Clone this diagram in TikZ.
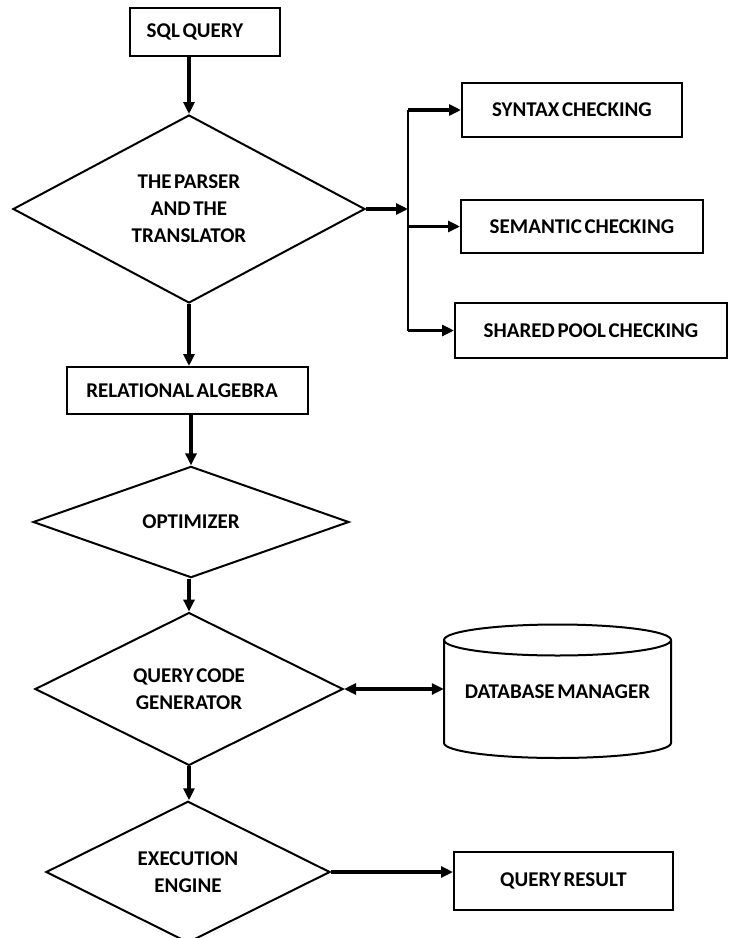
\documentclass[tikz,border=0pt]{standalone}
\usepackage{fontspec}
\setmainfont{Carlito}[WordSpace=0.55]
\usetikzlibrary{shapes.geometric,arrows.meta}
\begin{document}
\begin{tikzpicture}[x=1pt,y=-1pt,
  every node/.style={font=\fontsize{21}{27}\selectfont\bfseries, text=black},
  box/.style={draw, line width=2pt, inner sep=0pt, align=center},
  dia/.style={diamond, draw, line width=2pt, inner sep=0pt, align=center},
  flow/.style={line width=3.2pt, -{Triangle[length=12pt,width=11pt]}},
  dflow/.style={line width=3.2pt, {Triangle[length=12pt,width=11pt]}-{Triangle[length=12pt,width=11pt]}},
  busline/.style={line width=1.4pt}
]
\useasboundingbox (0,0) rectangle (729,938);

\node[box, minimum width=150, minimum height=48] (sql) at (205,32) {SQL QUERY\hspace*{20pt}};
\node[dia, minimum width=352, minimum height=188] (parser) at (189,209) {THE PARSER\\AND THE\\TRANSLATOR};
\node[box, minimum width=220, minimum height=54] (syn) at (572,110) {SYNTAX CHECKING};
\node[box, minimum width=242, minimum height=53] (sem) at (582,226.5) {SEMANTIC CHECKING};
\node[box, minimum width=272, minimum height=55] (shp) at (591,330.5) {SHARED POOL CHECKING};
\node[box, minimum width=241, minimum height=47] (ra) at (187.5,390.5) {RELATIONAL ALGEBRA\hspace*{11pt}};
\node[dia, minimum width=316, minimum height=95] (opt) at (191,522) {OPTIMIZER};
\node[dia, minimum width=308, minimum height=133] (qcg) at (189,689) {QUERY CODE\\GENERATOR};
\node[dia, minimum width=284, minimum height=134] (ee) at (188,872) {EXECUTION\\ENGINE};
\node[minimum width=227, minimum height=133, inner sep=0pt] (db) at (557.5,691.5) {DATABASE MANAGER};
\node[box, minimum width=219, minimum height=58] (qr) at (563.5,881) {QUERY RESULT};

% cylinder outline
\draw[line width=2pt] (557.5,640) ellipse [x radius=113.5pt, y radius=15.5pt];
\draw[line width=2pt] (444,640) -- (444,743) arc[start angle=180, end angle=360, x radius=113.5pt, y radius=15pt] -- (671,640);

% connectors
\draw[flow] (parser.north |- sql.south) -- (parser.north);
\draw[flow] (parser.south) -- (parser.south |- ra.north);
\draw[flow] (opt.north |- ra.south) -- (opt.north);
\draw[flow] (qcg.north |- opt.south) -- (qcg.north);
\draw[flow] (qcg.south) -- (qcg.south |- ee.north);
\draw[dflow] (qcg.east) -- (qcg.east -| db.west);
\draw[flow] (ee.east) -- (ee.east -| qr.west);

\coordinate (bus) at (408,209);
\draw[flow] (parser.east) -- (bus);
\draw[busline] (bus |- syn.west) -- (bus |- shp.west);
\draw[flow] (bus |- syn.west) -- (syn.west);
\draw[flow] (bus |- sem.west) -- (sem.west);
\draw[flow] (bus |- shp.west) -- (shp.west);
\end{tikzpicture}
\end{document}
